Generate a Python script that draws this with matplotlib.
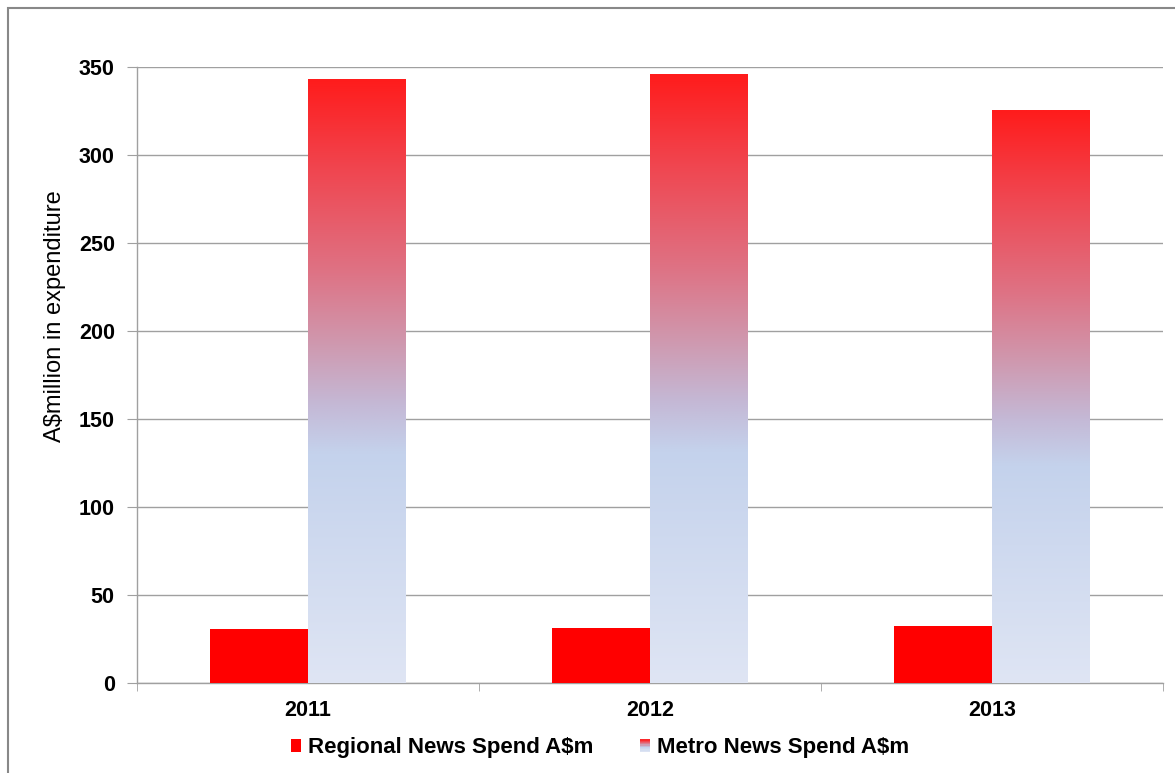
import matplotlib
matplotlib.use("Agg")
import matplotlib.pyplot as plt
import numpy as np
from matplotlib.colors import LinearSegmentedColormap
from matplotlib.patches import Rectangle, Patch
from matplotlib.legend_handler import HandlerBase

plt.rcParams['font.family'] = ['Liberation Sans', 'DejaVu Sans']

years = ["2011", "2012", "2013"]
regional = [30.7, 31.3, 32.3]
metro = [343.0, 346.0, 325.5]
y_ticks = [0, 50, 100, 150, 200, 250, 300, 350]
series_names = ["Regional News Spend A$m", "Metro News Spend A$m"]
ylabel = "A$million in expenditure"

stops = [(0.0, (223, 229, 244)), (0.38, (196, 210, 236)), (0.46, (196, 185, 214)),
         (0.57, (208, 150, 172)), (0.68, (222, 115, 133)), (0.85, (240, 70, 80)),
         (1.0, (255, 28, 28))]
cmap = LinearSegmentedColormap.from_list(
    "metro", [(p, tuple(c / 255 for c in rgb)) for p, rgb in stops])
grad = np.linspace(0, 1, 256).reshape(-1, 1)

fig = plt.figure(figsize=(11.75, 7.73), dpi=100)
ax = fig.add_axes([137 / 1175, 1 - 683 / 773, (1163 - 137) / 1175, (683 - 67) / 773])

x = np.arange(len(years))
w = 0.286
ax.bar(x - w / 2, regional, w, color="#ff0000", zorder=3, label=series_names[0])
mbars = ax.bar(x + w / 2, metro, w, color="none", zorder=3, label=series_names[1])
for b in mbars:
    x0, y0, bw, bh = b.get_x(), b.get_y(), b.get_width(), b.get_height()
    im = ax.imshow(grad, cmap=cmap, origin="lower", aspect="auto",
                   extent=(x0, x0 + bw, y0, y0 + bh), zorder=3, interpolation="bilinear")
    im.set_clip_path(b)

ax.set_xlim(-0.5, len(years) - 0.5)
ax.set_ylim(0, 350)
ax.set_yticks(y_ticks)
ax.set_yticklabels([str(v) for v in y_ticks], fontsize=15.5, fontweight="bold")
ax.set_xticks(x)
ax.set_xticklabels(years, fontsize=15.5, fontweight="bold")
ax.tick_params(axis="x", length=0, pad=12)
ax.set_xticks(np.arange(len(years) + 1) - 0.5, minor=True)
ax.tick_params(axis="x", which="minor", length=6, color="#a0a0a0", direction="out")
ax.tick_params(axis="y", length=7, color="#a0a0a0", pad=9)
ax.grid(axis="y", color="#a0a0a0", linewidth=1, zorder=0)
for s in ["top", "right"]:
    ax.spines[s].set_visible(False)
for s in ["left", "bottom"]:
    ax.spines[s].set_color("#a0a0a0")
    ax.spines[s].set_linewidth(1)
ax.set_ylabel(ylabel, fontsize=17)
ax.yaxis.set_label_coords(-0.069, 0.596)


class GradHandler(HandlerBase):
    def create_artists(self, legend, orig_handle, xdescent, ydescent, width, height, fontsize, trans):
        n = 10
        arts = []
        for i in range(n):
            r = Rectangle((-xdescent, -ydescent + height * i / n), width, height / n + 0.3,
                          facecolor=cmap((i + 0.5) / n), edgecolor="none", transform=trans)
            arts.append(r)
        return arts


h1 = Patch(facecolor="#ff0000", edgecolor="none")
h2 = Patch(facecolor="none")
fig.legend([h1, h2], series_names, loc="center", bbox_to_anchor=(600 / 1175, 1 - 748 / 773),
           ncol=2, frameon=False, handlelength=0.45, handleheight=0.5, handletextpad=0.3,
           columnspacing=2.1, prop={"size": 16, "weight": "bold"},
           handler_map={h2: GradHandler()})

border = Rectangle((8 / 1175, -0.1), 1.2, 1 - 8 / 773 + 0.1, transform=fig.transFigure,
                   facecolor="none", edgecolor="#888888", linewidth=1.5, clip_on=False)
fig.patches.append(border)

fig.savefig("out.png", dpi=100)
